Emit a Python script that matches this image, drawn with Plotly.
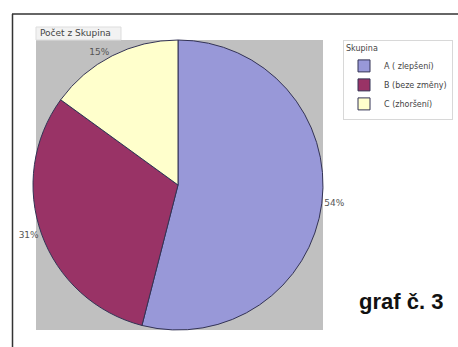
import plotly.graph_objects as go

labels = ["A ( zlepšení)", "B (beze změny)", "C (zhoršení)"]
values = [54, 31, 15]
colors = ["#9898d8", "#993366", "#ffffcc"]

W, H = 458, 347

def px(x):
    return x / W

def py(y):
    return 1 - y / H

fig = go.Figure()
fig.add_trace(go.Pie(
    labels=labels, values=values, sort=False, direction="clockwise", rotation=0,
    marker=dict(colors=colors, line=dict(color="#333355", width=1)),
    textinfo="percent", textposition="outside",
    texttemplate="%{percent:.0%}",
    outsidetextfont=dict(family="DejaVu Sans", size=9, color="#555555"),
    domain=dict(x=[px(33), px(323)], y=[py(330), py(40)]),
    showlegend=True, hoverinfo="label+percent",
))

shapes = [
    # gray plot area
    dict(type="rect", xref="paper", yref="paper", x0=px(36), x1=px(323), y0=py(330), y1=py(40),
         fillcolor="#c0c0c0", line=dict(width=0), layer="below"),
    # outer frame
    dict(type="line", xref="paper", yref="paper", x0=px(12), x1=1, y0=py(14), y1=py(14),
         line=dict(color="#333333", width=1.5)),
    dict(type="line", xref="paper", yref="paper", x0=px(12.5), x1=px(12.5), y0=py(14), y1=0,
         line=dict(color="#333333", width=1.5)),
    # "Počet z Skupina" box
    dict(type="rect", xref="paper", yref="paper", x0=px(36), x1=px(121), y0=py(40), y1=py(27),
         fillcolor="#f2f2f2", line=dict(color="#dddddd", width=1), layer="below"),
]

annotations = [
    dict(text="Počet z Skupina", x=px(38), y=py(33), xref="paper", yref="paper",
         xanchor="left", yanchor="middle", showarrow=False,
         font=dict(family="DejaVu Sans", size=9, color="#444444")),
    dict(text="<b>graf č. 3</b>", x=px(401), y=py(301), xref="paper", yref="paper",
         xanchor="center", yanchor="middle", showarrow=False,
         font=dict(family="Liberation Sans", size=22, color="#111111")),
]

fig.update_layout(
    width=W, height=H, margin=dict(l=0, r=0, t=0, b=0),
    paper_bgcolor="white", plot_bgcolor="white",
    shapes=shapes, annotations=annotations,
    legend=dict(
        x=px(343), y=py(40), xanchor="left", yanchor="top",
        title=dict(text="Skupina", font=dict(family="DejaVu Sans", size=8, color="#444444")),
        font=dict(family="DejaVu Sans", size=8, color="#444444"),
        bordercolor="#d8d8d8", borderwidth=1, bgcolor="white",
        itemwidth=30, tracegroupgap=0,
    ),
)

fig.write_html("out.html")
